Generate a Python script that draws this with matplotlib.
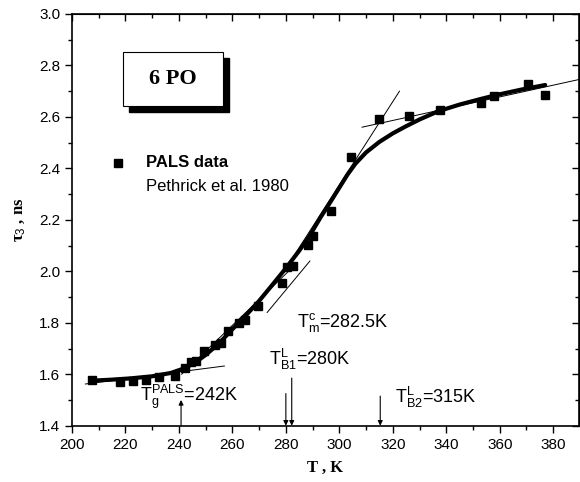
import matplotlib
matplotlib.use('Agg')
import matplotlib.pyplot as plt
from matplotlib.patches import Rectangle
from matplotlib.ticker import MultipleLocator, NullFormatter

plt.rcParams['font.family'] = 'Liberation Sans'
plt.rcParams['mathtext.fontset'] = 'custom'
plt.rcParams['mathtext.rm'] = 'Liberation Sans'
plt.rcParams['mathtext.it'] = 'Liberation Sans'

# PALS data (Pethrick et al. 1980)
T_data = [207.6, 218.0, 222.7, 227.7, 232.7, 238.5, 242.3, 244.5, 246.5, 249.4,
          253.5, 255.6, 258.5, 262.4, 264.9, 269.5, 278.5, 280.6, 282.6, 288.1,
          290.3, 296.9, 304.3, 314.9, 326.1, 337.5, 353.1, 357.7, 370.5, 377.0]
tau_data = [1.576, 1.571, 1.572, 1.578, 1.588, 1.595, 1.623, 1.649, 1.652, 1.690,
            1.713, 1.722, 1.767, 1.798, 1.812, 1.866, 1.956, 2.018, 2.021, 2.101,
            2.139, 2.236, 2.443, 2.591, 2.605, 2.627, 2.655, 2.681, 2.728, 2.686]

# thick fitted curve
T_fit = [207.5, 215, 222, 230, 237, 242, 246, 250, 255, 260, 265, 270, 275, 280,
         285, 289, 293, 297, 300, 303, 306, 310, 315, 320, 325, 330, 337, 345,
         353, 360, 368, 377]
tau_fit = [1.575, 1.579, 1.584, 1.592, 1.605, 1.623, 1.645, 1.675, 1.72, 1.775,
           1.828, 1.885, 1.948, 2.012, 2.08, 2.14, 2.21, 2.275, 2.325, 2.375,
           2.418, 2.462, 2.503, 2.536, 2.564, 2.59, 2.622, 2.648, 2.67, 2.688,
           2.706, 2.724]

# thin tangent lines (start, end)
tangents = [
    ([205, 257], [1.562, 1.632]),
    ([241, 284], [1.60, 2.03]),
    ([273, 289], [1.84, 2.04]),
    ([283, 322.5], [2.06, 2.70]),
    ([308.5, 389.5], [2.56, 2.745]),
]

# arrows: x, start y, end y
arrows = [(240.8, 1.40, 1.50), (280.0, 1.525, 1.40), (282.2, 1.585, 1.40),
          (315.3, 1.515, 1.40)]

labels = [
    (225.4, 1.496, r'T$_{\mathrm{g}}^{\mathrm{PALS}}$=242K'),
    (284.1, 1.782, r'T$_{\mathrm{m}}^{\mathrm{c}}$=282.5K'),
    (273.8, 1.636, r'T$_{\mathrm{B1}}^{\mathrm{L}}$=280K'),
    (320.9, 1.489, r'T$_{\mathrm{B2}}^{\mathrm{L}}$=315K'),
]

fig = plt.figure(figsize=(5.8, 4.82), dpi=100)
ax = fig.add_axes([0.1241, 0.1168, 0.8735, 0.8542])

for xs, ys in tangents:
    ax.plot(xs, ys, color='k', lw=0.7)
ax.plot(T_fit, tau_fit, color='k', lw=3.0, solid_capstyle='round',
        solid_joinstyle='round')
ax.plot(T_data, tau_data, 's', color='k', markersize=6)

for x, y0, y1 in arrows:
    ax.annotate('', xy=(x, y1), xytext=(x, y0),
                arrowprops=dict(arrowstyle='-|>', lw=0.8, color='k',
                                mutation_scale=7, shrinkA=0, shrinkB=0))

for x, y, s in labels:
    ax.text(x, y, s, fontsize=13, va='baseline', ha='left')

# legend-like entry
ax.plot([217.3], [2.422], 's', color='k', markersize=6)
ax.text(227.6, 2.422, 'PALS data', fontsize=12, fontweight='bold', va='center')
ax.text(227.6, 2.329, 'Pethrick et al. 1980', fontsize=12, va='center')

# "6 PO" box with shadow
ax.add_patch(Rectangle((0.113, 0.763), 0.196, 0.131, transform=ax.transAxes,
                       facecolor='k', edgecolor='k', zorder=4))
ax.add_patch(Rectangle((0.1016, 0.7765), 0.196, 0.131, transform=ax.transAxes,
                       facecolor='white', edgecolor='k', lw=0.8, zorder=5))
ax.text(0.1996, 0.842, '6 PO', transform=ax.transAxes, ha='center', va='center',
        fontsize=16, fontweight='bold', family='Liberation Serif', zorder=6)

ax.set_xlim(200, 389.5)
ax.set_ylim(1.4, 3.0)
ax.xaxis.set_major_locator(MultipleLocator(20))
ax.xaxis.set_minor_locator(MultipleLocator(10))
ax.yaxis.set_major_locator(MultipleLocator(0.2))
ax.yaxis.set_minor_locator(MultipleLocator(0.1))
ax.yaxis.set_major_formatter(plt.FormatStrFormatter('%.1f'))
ax.tick_params(which='both', direction='out', labelsize=11, width=1)
ax.tick_params(which='major', length=5)
ax.tick_params(which='minor', length=3)
for sp in ax.spines.values():
    sp.set_linewidth(1.2)

# inward ticks on top and right
top = ax.secondary_xaxis('top')
top.xaxis.set_major_locator(MultipleLocator(20))
top.xaxis.set_minor_locator(MultipleLocator(10))
top.xaxis.set_major_formatter(NullFormatter())
top.tick_params(which='both', direction='in', width=1)
top.tick_params(which='major', length=5)
top.tick_params(which='minor', length=3)
right = ax.secondary_yaxis('right')
right.yaxis.set_major_locator(MultipleLocator(0.2))
right.yaxis.set_minor_locator(MultipleLocator(0.1))
right.yaxis.set_major_formatter(NullFormatter())
right.tick_params(which='both', direction='in', width=1)
right.tick_params(which='major', length=5)
right.tick_params(which='minor', length=3)

ax.set_xlabel('T , K', family='Liberation Serif', fontweight='bold', fontsize=12,
              labelpad=6)
ax.set_ylabel(r'τ$_3$ , ns', family='Liberation Serif', fontweight='bold',
              fontsize=12, labelpad=8)

fig.savefig('out.png', dpi=100)
